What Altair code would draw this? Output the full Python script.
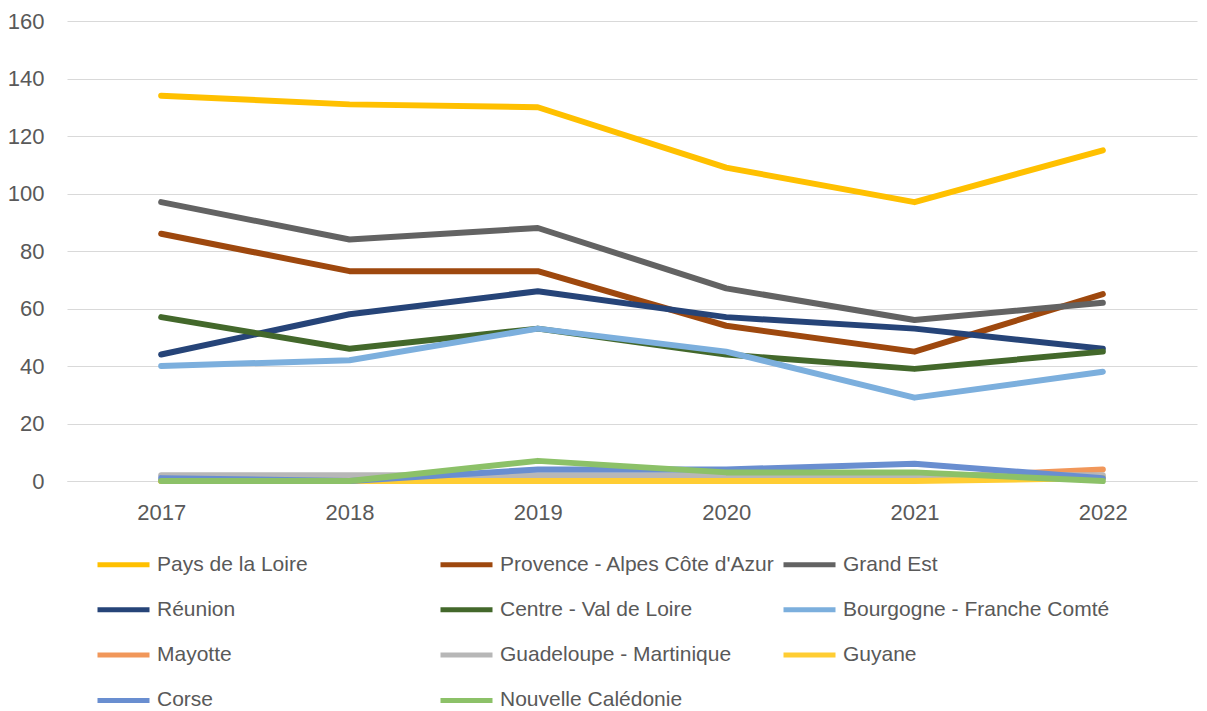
import altair as alt
import pandas as pd

years = ["2017", "2018", "2019", "2020", "2021", "2022"]
regions = [
    "Pays de la Loire", "Provence - Alpes Côte d'Azur", "Grand Est",
    "Réunion", "Centre - Val de Loire", "Bourgogne - Franche Comté",
    "Mayotte", "Guadeloupe - Martinique", "Guyane",
    "Corse", "Nouvelle Calédonie",
]
colors = [
    "#FFC000", "#9E480E", "#636363",
    "#264478", "#43682B", "#7CAFDD",
    "#F1975A", "#B7B7B7", "#FFCD33",
    "#698ED0", "#8CC168",
]

pays_de_la_loire = [134, 131, 130, 109, 97, 115]
provence = [86, 73, 73, 54, 45, 65]
grand_est = [97, 84, 88, 67, 56, 62]
reunion = [44, 58, 66, 57, 53, 46]
centre = [57, 46, 53, 44, 39, 45]
bourgogne = [40, 42, 53, 45, 29, 38]
mayotte = [0, 0, 1, 1, 1, 4]
guadeloupe = [2, 2, 2, 2, 2, 2]
guyane = [0, 0, 0, 0, 0, 1]
corse = [1, 0, 4, 4, 6, 1]
nouvelle_caledonie = [0, 0, 7, 3, 3, 0]

series = [pays_de_la_loire, provence, grand_est, reunion, centre, bourgogne,
          mayotte, guadeloupe, guyane, corse, nouvelle_caledonie]

rows = []
for i, (name, vals) in enumerate(zip(regions, series)):
    for y, v in zip(years, vals):
        rows.append({"Région": name, "Année": y, "Valeur": v, "ordre": i})
df = pd.DataFrame(rows)

FONT = "Liberation Sans"
TXT = "#595959"
GRID = "#D9D9D9"

chart = alt.Chart(df).mark_line(
    strokeWidth=6, strokeCap="round", strokeJoin="round"
).encode(
    x=alt.X("Année:N", sort=years,
            scale=alt.Scale(type="point", padding=0.5),
            axis=alt.Axis(title=None, labelAngle=0, ticks=False, tickSize=0,
                          domainColor=GRID, domainWidth=1,
                          labelBaseline="alphabetic", labelPadding=38,
                          grid=False)),
    y=alt.Y("Valeur:Q",
            scale=alt.Scale(domain=[0, 160], nice=False),
            axis=alt.Axis(title=None, values=list(range(0, 161, 20)),
                          ticks=False, tickSize=0, domain=False,
                          labelPadding=23, gridColor=GRID, gridWidth=1)),
    color=alt.Color("Région:N", sort=regions,
                    scale=alt.Scale(domain=regions, range=colors),
                    legend=alt.Legend(
                        title=None, orient="none", legendX=28, legendY=515,
                        direction="horizontal", columns=3, gridAlign="all",
                        columnPadding=-2, rowPadding=6.3,
                        symbolType="stroke", symbolSize=2704,
                        symbolStrokeWidth=5, labelOffset=5,
                        labelFont=FONT, labelFontSize=21, labelColor=TXT,
                        labelLimit=400, padding=0,
                    )),
    order=alt.Order("ordre:Q"),
    detail="Région:N",
).properties(
    width=1130, height=460,
    autosize=alt.AutoSizeParams(type="none"),
    padding={"left": 59, "top": 13, "right": 2, "bottom": 232},
).configure_view(stroke=None).configure_axis(
    labelFont=FONT, labelFontSize=22, labelColor=TXT,
)

chart.save("out.html", embed_options={"renderer": "svg", "actions": False})
